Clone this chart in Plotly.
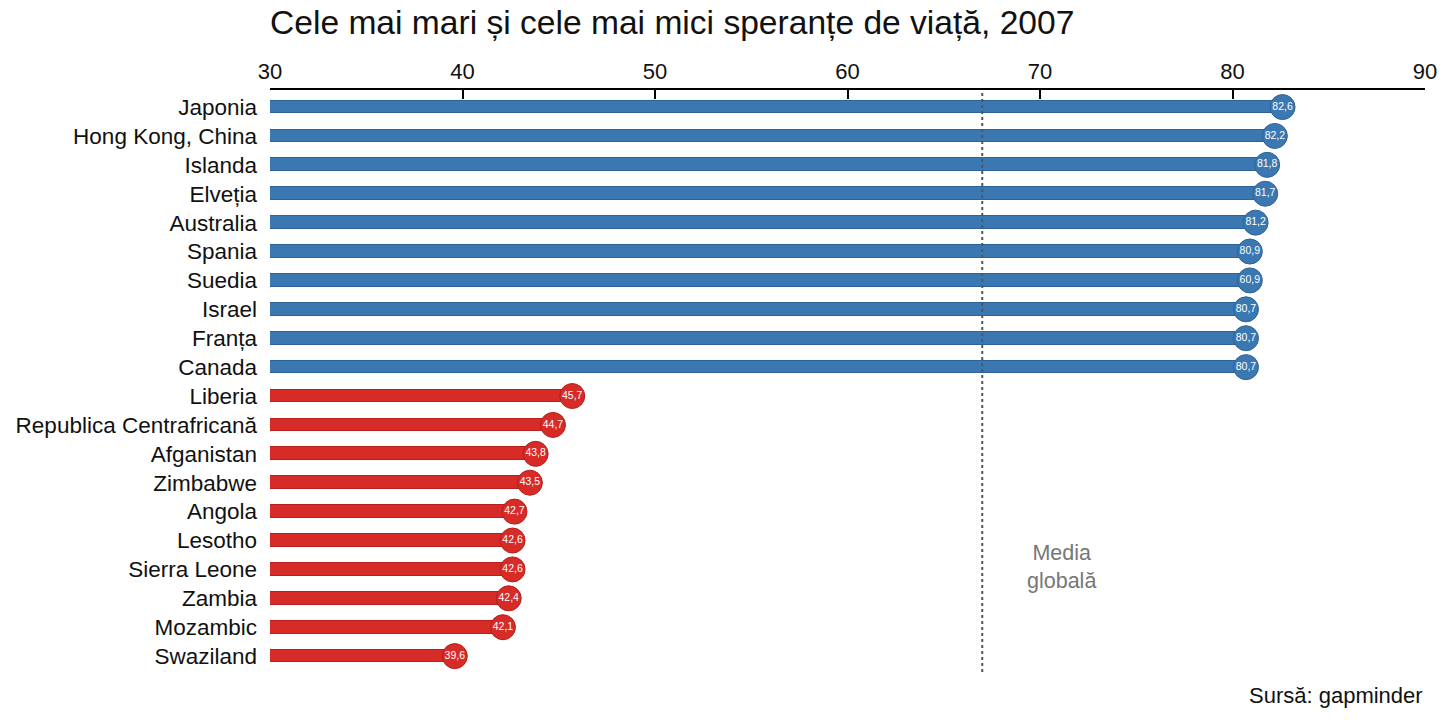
import plotly.graph_objects as go

countries = ["Japonia", "Hong Kong, China", "Islanda", "Elveția", "Australia", "Spania",
             "Suedia", "Israel", "Franța", "Canada",
             "Liberia", "Republica Centrafricană", "Afganistan", "Zimbabwe", "Angola",
             "Lesotho", "Sierra Leone", "Zambia", "Mozambic", "Swaziland"]
life_exp = [82.6, 82.2, 81.8, 81.7, 81.2, 80.9, 80.9, 80.7, 80.7, 80.7,
            45.7, 44.7, 43.8, 43.5, 42.7, 42.6, 42.6, 42.4, 42.1, 39.6]
value_labels = ["82,6", "82,2", "81,8", "81,7", "81,2", "80,9", "60,9", "80,7", "80,7", "80,7",
                "45,7", "44,7", "43,8", "43,5", "42,7", "42,6", "42,6", "42,4", "42,1", "39,6"]
group = ["top"] * 10 + ["bottom"] * 10
global_mean = 67.0
axis_base = 30
x_ticks = [30, 40, 50, 60, 70, 80, 90]

BLUE = "#3b78b1"
RED = "#d62b27"
colors = [BLUE if g == "top" else RED for g in group]
edge = ["#2e6396" if g == "top" else "#b51f1c" for g in group]
idx = list(range(len(countries)))

FONT = "Liberation Sans, Arial"

fig = go.Figure()
fig.add_trace(go.Bar(
    y=idx, x=[v - axis_base for v in life_exp], base=axis_base, orientation="h",
    width=0.44, marker=dict(color=colors, line=dict(color=edge, width=1)),
    hoverinfo="skip", showlegend=False))
fig.add_trace(go.Scatter(
    y=idx, x=life_exp, mode="markers+text", text=value_labels,
    textposition="middle center",
    textfont=dict(color="white", size=10.5, family=FONT),
    marker=dict(size=25, color=colors, line=dict(color=edge, width=1)),
    showlegend=False, cliponaxis=False))

fig.add_shape(type="line", xref="x", yref="y domain", x0=global_mean, x1=global_mean,
              y0=0, y1=1, line=dict(color="#555555", width=2, dash="dot"))
fig.add_annotation(x=global_mean + 4.14, y=15.9, xref="x", yref="y",
                   text="Media<br>globală", showarrow=False,
                   font=dict(size=21.5, color="#777777", family=FONT),
                   align="center")
fig.add_annotation(x=1, y=0, xref="paper", yref="paper", xanchor="right", yanchor="middle",
                   text="Sursă: gapminder", showarrow=False, yshift=-23,
                   font=dict(size=22, color="#111111", family=FONT))

fig.update_layout(
    width=1440, height=720,
    margin=dict(l=270, r=15, t=90, b=48, autoexpand=False),
    paper_bgcolor="white", plot_bgcolor="white",
    bargap=0,
    font=dict(family=FONT, color="#111111"),
    title=dict(text="Cele mai mari și cele mai mici speranțe de viață, 2007",
               x=270 / 1440, xanchor="left", y=1 - 22 / 720, yref="container",
               yanchor="middle",
               font=dict(size=33.6, color="#111111")),
    xaxis=dict(range=[30, 90], side="top", tickvals=x_ticks, automargin=False,
               showgrid=False, zeroline=False,
               showline=True, linecolor="black", linewidth=2,
               ticks="inside", ticklen=9, tickwidth=2, tickcolor="black",
               tickfont=dict(size=22, color="#111111")),
    yaxis=dict(range=[19.55, -0.59], tickvals=idx, ticktext=countries, automargin=False,
               showgrid=False, zeroline=False, showline=False, ticks="",
               ticklabelstandoff=12,
               tickfont=dict(size=22.5, color="#111111")),
)

fig.write_html("out.html", config={"displayModeBar": False},
               post_script="document.body.style.margin='0';document.body.style.overflow='hidden';")
